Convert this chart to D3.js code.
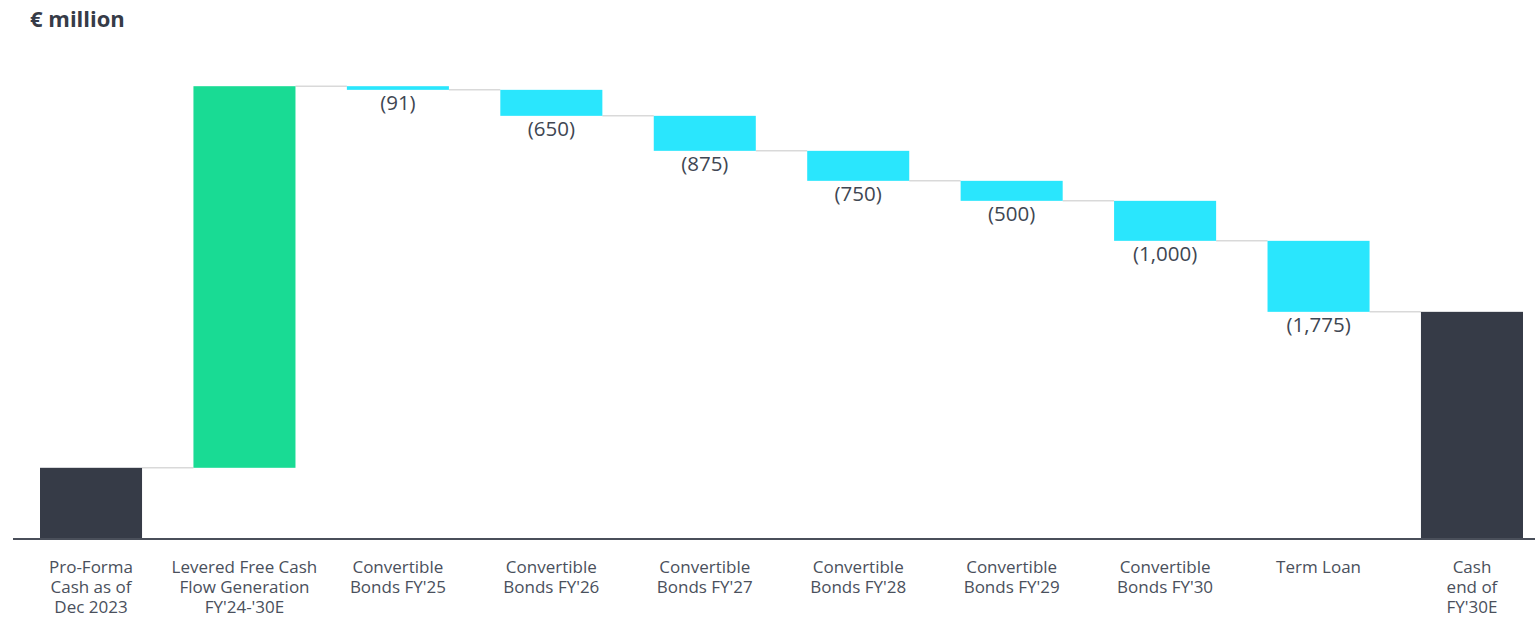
<!DOCTYPE html>
<html><head><meta charset="utf-8">
<script src="https://cdn.jsdelivr.net/npm/d3@7"></script>
<style>body{margin:0;background:#fff;} svg{display:block;font-family:"Open Sans",sans-serif;}</style>
</head><body>
<svg id="chart" width="1535" height="617"></svg>
<script>
const categories = [
  ["Pro-Forma","Cash as of","Dec 2023"],
  ["Levered Free Cash","Flow Generation","FY'24-'30E"],
  ["Convertible","Bonds FY'25"],
  ["Convertible","Bonds FY'26"],
  ["Convertible","Bonds FY'27"],
  ["Convertible","Bonds FY'28"],
  ["Convertible","Bonds FY'29"],
  ["Convertible","Bonds FY'30"],
  ["Term Loan"],
  ["Cash","end of","FY'30E"]
];
const values = [1780, 9540, -91, -650, -875, -750, -500, -1000, -1775, null];
const types = ["total","increase","decrease","decrease","decrease","decrease","decrease","decrease","decrease","total"];
const valueLabels = ["","","(91)","(650)","(875)","(750)","(500)","(1,000)","(1,775)",""];
const colors = {total:"#363b47", increase:"#19db94", decrease:"#2ae6fd"};

// build waterfall steps
let run = 0;
const steps = categories.map((c,i)=>{
  let start, end;
  if (i===0){ start=0; end=values[0]; run=end; }
  else if (types[i]==="total"){ start=0; end=run; }
  else { start=run; end=run+values[i]; run=end; }
  return {i, start, end, type:types[i], label:valueLabels[i], cat:c};
});

const svg = d3.select("#chart");
const x = d3.scaleBand().domain(d3.range(categories.length)).range([40,1523]).paddingInner(0.335).paddingOuter(0);
const y = d3.scaleLinear().domain([0,12000]).range([539,59]);

// connectors
for (let k=0;k<steps.length-1;k++){
  const level = steps[k].end;
  svg.append("line")
    .attr("x1", x(k)+x.bandwidth()).attr("x2", x(k+1))
    .attr("y1", y(level)).attr("y2", y(level))
    .attr("stroke","#d9d9d9").attr("stroke-width",1.5);
}

svg.selectAll("rect.bar").data(steps).enter().append("rect")
  .attr("class","bar")
  .attr("x", d=>x(d.i)).attr("width", x.bandwidth())
  .attr("y", d=>y(Math.max(d.start,d.end)))
  .attr("height", d=>Math.abs(y(d.start)-y(d.end)))
  .attr("fill", d=>colors[d.type]);

// value labels
svg.selectAll("text.val").data(steps.filter(d=>d.label)).enter().append("text")
  .attr("class","val")
  .attr("x", d=>x(d.i)+x.bandwidth()/2)
  .attr("y", d=>y(Math.min(d.start,d.end))+20.5)
  .attr("text-anchor","middle")
  .attr("font-size",20.5).attr("fill","#404652")
  .text(d=>d.label);

// axis line
svg.append("line").attr("x1",13).attr("x2",1535).attr("y1",y(0)).attr("y2",y(0))
  .attr("stroke","#4a4f5a").attr("stroke-width",2);

// category labels
const cl = svg.selectAll("text.cat").data(steps).enter().append("text")
  .attr("class","cat")
  .attr("x", d=>x(d.i)+x.bandwidth()/2)
  .attr("text-anchor","middle")
  .attr("font-size",17).attr("fill","#4a505c");
cl.each(function(d){
  const t=d3.select(this);
  d.cat.forEach((ln,j)=>t.append("tspan").attr("x", x(d.i)+x.bandwidth()/2).attr("y",573+j*20).text(ln));
});

svg.append("text").attr("x",30).attr("y",27).attr("font-size",22).attr("font-weight","bold")
  .attr("fill","#363b47").text("€ million");
</script>
</body></html>
